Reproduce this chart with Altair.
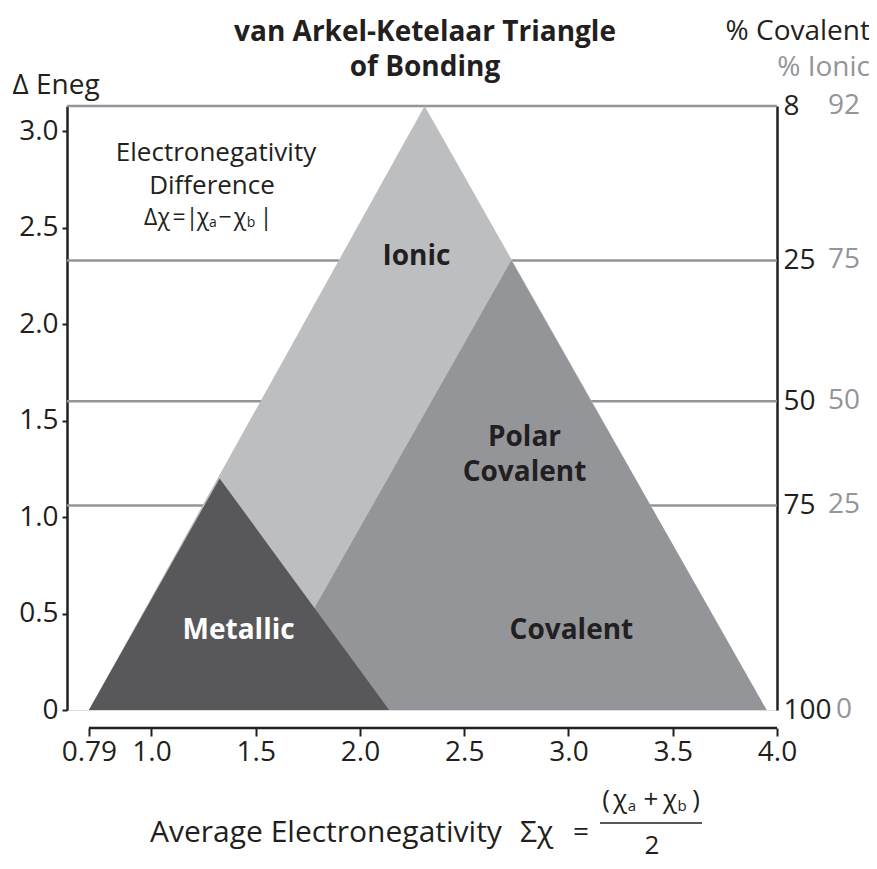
import altair as alt
import pandas as pd

# ---------------- data ----------------
# triangle regions: (average electronegativity, electronegativity difference)
ionic_x = [0.70, 2.31, 3.95]
ionic_y = [0.0, 3.13, 0.0]
covalent_x = [1.505, 2.726, 3.95]
covalent_y = [0.0, 2.33, 0.0]
metallic_x = [0.70, 1.327, 2.14]
metallic_y = [0.0, 1.20, 0.0]

# percent ionic / covalent reference levels
level_y = [3.13, 2.33, 1.60, 1.06, 0.0]
pct_covalent = ["8", "25", "50", "75", "100"]
pct_ionic = ["92", "75", "50", "25", "0"]

x_tick_values = [0.70, 1.0, 1.5, 2.0, 2.5, 3.0, 3.5, 4.0]
x_tick_labels = ["0.79", "1.0", "1.5", "2.0", "2.5", "3.0", "3.5", "4.0"]
y_tick_values = [0.0, 0.5, 1.0, 1.5, 2.0, 2.5, 3.0]
y_tick_labels = ["0", "0.5", "1.0", "1.5", "2.0", "2.5", "3.0"]

# region labels (data coordinates)
region_text = ["Ionic", "Polar", "Covalent", "Covalent"]
region_x = [2.271, 2.789, 2.789, 3.014]
region_y = [2.35, 1.41, 1.23, 0.409]
metal_text = ["Metallic"]
metal_x = [1.418]
metal_y = [0.409]

# ---------------- styling ----------------
W, H = 710, 604
X_DOMAIN = [0.595, 4.0]
Y_DOMAIN = [0.0, 3.13]
FONT = "Open Sans"
FS = 28
INK = "#231f20"
LIGHT, MID, DARK = "#bcbec0", "#939598", "#58585a"

xs = alt.Scale(domain=X_DOMAIN, nice=False, zero=False)
ys = alt.Scale(domain=Y_DOMAIN, nice=False, zero=False)


def label_expr(values, labels):
    expr = "''"
    for v, l in reversed(list(zip(values, labels))):
        expr = f"abs(datum.value - {v}) < 0.001 ? '{l}' : {expr}"
    return expr


def tri(xv, yv, color):
    df = pd.DataFrame({"x": xv, "y": yv})
    return alt.Chart(df).mark_area(color=color, opacity=1, interpolate="linear").encode(
        x=alt.X("x:Q", scale=xs, axis=None),
        y=alt.Y("y:Q", scale=ys, axis=None),
    )


levels = pd.DataFrame({"y": level_y, "cov": pct_covalent, "ion": pct_ionic})

left_axis = alt.Axis(
    orient="left", values=y_tick_values, labelExpr=label_expr(y_tick_values, y_tick_labels),
    grid=False, domainColor=INK, domainWidth=2.5, tickColor=INK, tickWidth=2, tickSize=5,
    labelFont=FONT, labelFontSize=FS, labelColor=INK, labelPadding=4, labelFlush=False,
    labelOverlap=False,
    title="\u0394 Eneg", titleAngle=0, titleX=-55, titleY=-21, titleAlign="left",
    titleBaseline="middle", titleFont=FONT, titleFontSize=FS, titleFontWeight="normal",
    titleColor=INK,
)

rules = alt.Chart(levels).transform_filter("datum.y > 0").mark_rule(
    color=MID, strokeWidth=2.5
).encode(
    y=alt.Y("y:Q", scale=ys, axis=left_axis),
    x=alt.value(0), x2=alt.value(W),
)

right_axis = alt.Axis(
    orient="right", values=level_y, labelExpr=label_expr(level_y, pct_covalent),
    grid=False, domainColor=INK, domainWidth=2.5, ticks=False,
    labelFont=FONT, labelFontSize=FS, labelColor=INK, labelPadding=6, labelFlush=False,
    labelOverlap=False, title=None,
)

ionic_labels = alt.Chart(levels).mark_text(
    align="center", baseline="middle", font=FONT, fontSize=FS, color=MID
).encode(
    y=alt.Y("y:Q", scale=ys, axis=right_axis),
    x=alt.value(777),
    text="ion:N",
)

x_axis = alt.Axis(
    orient="bottom", values=x_tick_values, labelExpr=label_expr(x_tick_values, x_tick_labels),
    offset=18, domain=False, grid=False, tickColor=INK, tickWidth=2, tickSize=8,
    labelFont=FONT, labelFontSize=FS, labelColor=INK, labelPadding=2, labelFlush=False,
    labelOverlap=False, title=None,
)
x_line = alt.Chart(
    pd.DataFrame({"x": [x_tick_values[0]], "x2": [x_tick_values[-1]]})
).mark_rule(color=INK, strokeWidth=2.5).encode(
    x=alt.X("x:Q", scale=xs, axis=x_axis), x2="x2:Q", y=alt.value(H + 18),
)

regions_txt = alt.Chart(
    pd.DataFrame({"x": region_x, "y": region_y, "t": region_text})
).mark_text(font=FONT, fontSize=FS, fontWeight="bold", color=INK, baseline="middle").encode(
    x=alt.X("x:Q", scale=xs, axis=None), y=alt.Y("y:Q", scale=ys, axis=None), text="t:N"
)
metal_txt = alt.Chart(
    pd.DataFrame({"x": metal_x, "y": metal_y, "t": metal_text})
).mark_text(font=FONT, fontSize=FS, fontWeight="bold", color="white", baseline="middle").encode(
    x=alt.X("x:Q", scale=xs, axis=None), y=alt.Y("y:Q", scale=ys, axis=None), text="t:N"
)


# pixel-placed annotation text (relative to the plot origin)
def ptext(texts, px, py, size=FS, weight="normal", align="left", color=INK):
    df = pd.DataFrame({"t": texts, "px": px, "py": py})
    return alt.Chart(df).mark_text(
        font=FONT, fontSize=size, fontWeight=weight, align=align, baseline="middle", color=color
    ).encode(
        x=alt.X("px:Q", scale=None), y=alt.Y("py:Q", scale=None), text="t:N"
    )


title = ptext(["van Arkel-Ketelaar Triangle", "of Bonding"], [358, 358], [-73, -38],
              size=FS, weight="bold", align="center")
hdr_cov = ptext(["% Covalent"], [803], [-74], align="right")
hdr_ion = ptext(["% Ionic"], [803], [-38], align="right", color=MID)

ed_lines = ptext(["Electronegativity", "Difference"], [149, 145], [47, 80], size=26, align="center")
ed_main = ptext(["\u0394\u03c7", "=", "|", "\u03c7", "\u2212", "\u03c7", "|"],
                [90, 112, 125, 136, 158, 173, 199], [112] * 7, size=23, align="center")
ed_sub = ptext(["a", "b"], [146, 184], [117, 117], size=14, align="center")

ax_title = ptext(["Average Electronegativity", "\u03a3\u03c7"], [83, 453], [727, 727], size=30)
eq_sign = ptext(["="], [514], [727], size=28, align="center")
num_main = ptext(["(", "\u03c7", "+", "\u03c7", ")"], [539, 553, 584, 603, 629], [694] * 5,
                 size=26, align="center")
num_sub = ptext(["a", "b"], [565, 615], [700, 700], size=15, align="center")
den = ptext(["2"], [585], [740], size=26, align="center")
frac_bar = alt.Chart(pd.DataFrame({"a": [0]})).mark_rule(color=INK, strokeWidth=1.5).encode(
    x=alt.value(533), x2=alt.value(635), y=alt.value(717)
)

chart = alt.layer(
    rules,
    tri(ionic_x, ionic_y, LIGHT),
    tri(covalent_x, covalent_y, MID),
    tri(metallic_x, metallic_y, DARK),
    regions_txt, metal_txt,
    ionic_labels,
    x_line,
    title, hdr_cov, hdr_ion, ed_lines, ed_main, ed_sub,
    ax_title, eq_sign, num_main, num_sub, den, frac_bar,
).resolve_axis(y="independent", x="independent").properties(
    width=W, height=H,
    autosize=alt.AutoSizeParams(type="none"),
    padding={"left": 59, "top": 98, "right": 92, "bottom": 151},
).configure_view(stroke=None).configure(background="white")

chart.save("out.html", embed_options={"renderer": "svg", "actions": False})
